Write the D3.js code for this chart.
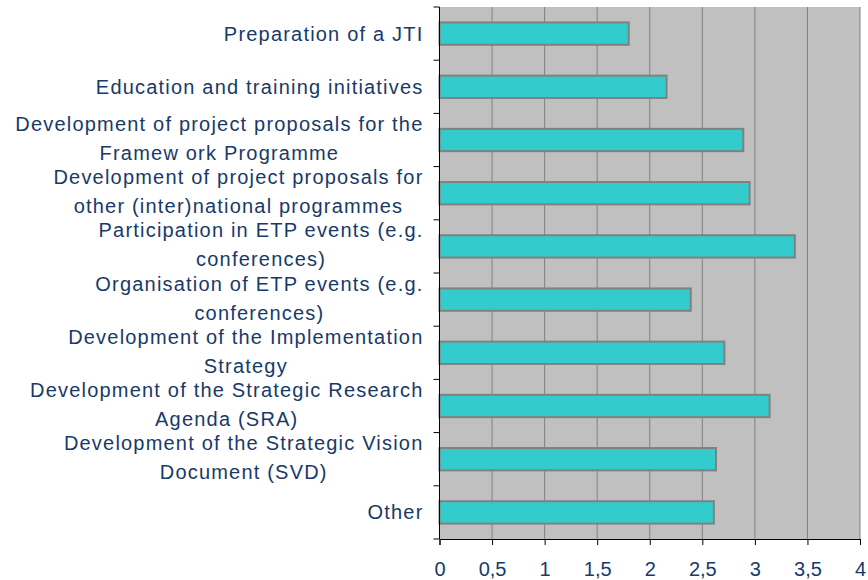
<!DOCTYPE html>
<html><head>
<meta charset="utf-8">
<script src="https://d3js.org/d3.v7.min.js"></script>
<style>
  body { margin: 0; background: #fff; }
  text { font-family: "Liberation Sans", Arial, sans-serif; }
</style>
</head>
<body>
<svg id="chart" width="868" height="580"></svg>
<script>
// categories, top to bottom (each label split into lines)
const categories = [
  ["Preparation of a JTI"],
  ["Education and training initiatives"],
  ["Development of project proposals for the", "Framew ork Programme"],
  ["Development of project proposals for", "other (inter)national programmes"],
  ["Participation in ETP events (e.g.", "conferences)"],
  ["Organisation of ETP events (e.g.", "conferences)"],
  ["Development of the Implementation", "Strategy"],
  ["Development of the Strategic Research", "Agenda (SRA)"],
  ["Development of the Strategic Vision", "Document (SVD)"],
  ["Other"]
];
const values = [1.80, 2.16, 2.89, 2.95, 3.38, 2.39, 2.71, 3.14, 2.63, 2.61];
const xTicks = [0, 0.5, 1, 1.5, 2, 2.5, 3, 3.5, 4];
const xTickLabels = ["0", "0,5", "1", "1,5", "2", "2,5", "3", "3,5", "4"];

const svg = d3.select("#chart");
const margin = { top: 7, right: 8, bottom: 41, left: 439.5 };
const width = 868 - margin.left - margin.right;
const height = 580 - margin.top - margin.bottom;
const textColor = "#173a6a";
const labelRight = -16;

const g = svg.append("g")
  .attr("transform", "translate(" + margin.left + "," + margin.top + ")");

const x = d3.scaleLinear().domain([0, 4]).range([0, width]);
const y = d3.scaleBand().domain(d3.range(categories.length)).range([0, height]).paddingInner(0);

// plot background
g.append("rect")
  .attr("x", 0).attr("y", 0)
  .attr("width", width).attr("height", height)
  .attr("fill", "#c0c0c0");

// vertical gridlines
g.selectAll("line.grid").data(xTicks.slice(1))
  .join("line")
  .attr("class", "grid")
  .attr("x1", d => x(d)).attr("x2", d => x(d))
  .attr("y1", 0).attr("y2", height)
  .attr("stroke", "#808080")
  .attr("stroke-width", 1);

// bars
const barH = y.bandwidth() * 0.42;
g.selectAll("rect.bar").data(values)
  .join("rect")
  .attr("class", "bar")
  .attr("x", x(0))
  .attr("y", (d, i) => y(i) + (y.bandwidth() - barH) / 2)
  .attr("width", d => x(d) - x(0))
  .attr("height", barH)
  .attr("fill", "#33cccc")
  .attr("stroke", "#808080")
  .attr("stroke-width", 2);

// y axis (ticks at band boundaries)
const yEdges = d3.range(categories.length + 1).map(i => i * y.step());
const yAxis = g.append("g");
yAxis.append("line")
  .attr("x1", 0).attr("x2", 0).attr("y1", 0).attr("y2", height)
  .attr("stroke", "#000");
yAxis.selectAll("line.tick").data(yEdges)
  .join("line")
  .attr("class", "tick")
  .attr("x1", -6).attr("x2", 0)
  .attr("y1", d => d).attr("y2", d => d)
  .attr("stroke", "#000");

// category labels: centred block, right edge against the axis
g.selectAll("g.cat").data(categories)
  .join("g")
  .attr("class", "cat")
  .each(function(lines, i) {
    const cy = y(i) + y.bandwidth() / 2;
    const offs = lines.length === 1 ? [0] : [-16, 13];
    const t = d3.select(this).selectAll("text").data(lines)
      .join("text")
      .attr("fill", textColor)
      .attr("text-anchor", "middle")
      .attr("y", (d, j) => cy + offs[j])
      .attr("dy", "0.35em")
      .style("font-size", "20px")
      .style("letter-spacing", "1.2px")
      .text(d => d);
    let maxW = 0;
    t.each(function() { maxW = Math.max(maxW, this.getComputedTextLength()); });
    t.attr("x", labelRight - maxW / 2);
  });

// x axis
const xAxis = d3.axisBottom(x)
  .tickValues(xTicks)
  .tickFormat((d, i) => xTickLabels[i])
  .tickSize(6)
  .tickPadding(17);
const xg = g.append("g")
  .attr("transform", "translate(0," + height + ")")
  .call(xAxis);
xg.select(".domain").attr("stroke", "#000");
xg.selectAll(".tick line").attr("stroke", "#000");
xg.selectAll(".tick text")
  .attr("fill", textColor)
  .style("font-size", "20px")
  .style("font-family", "'Liberation Sans', Arial, sans-serif");
</script>
</body>
</html>
